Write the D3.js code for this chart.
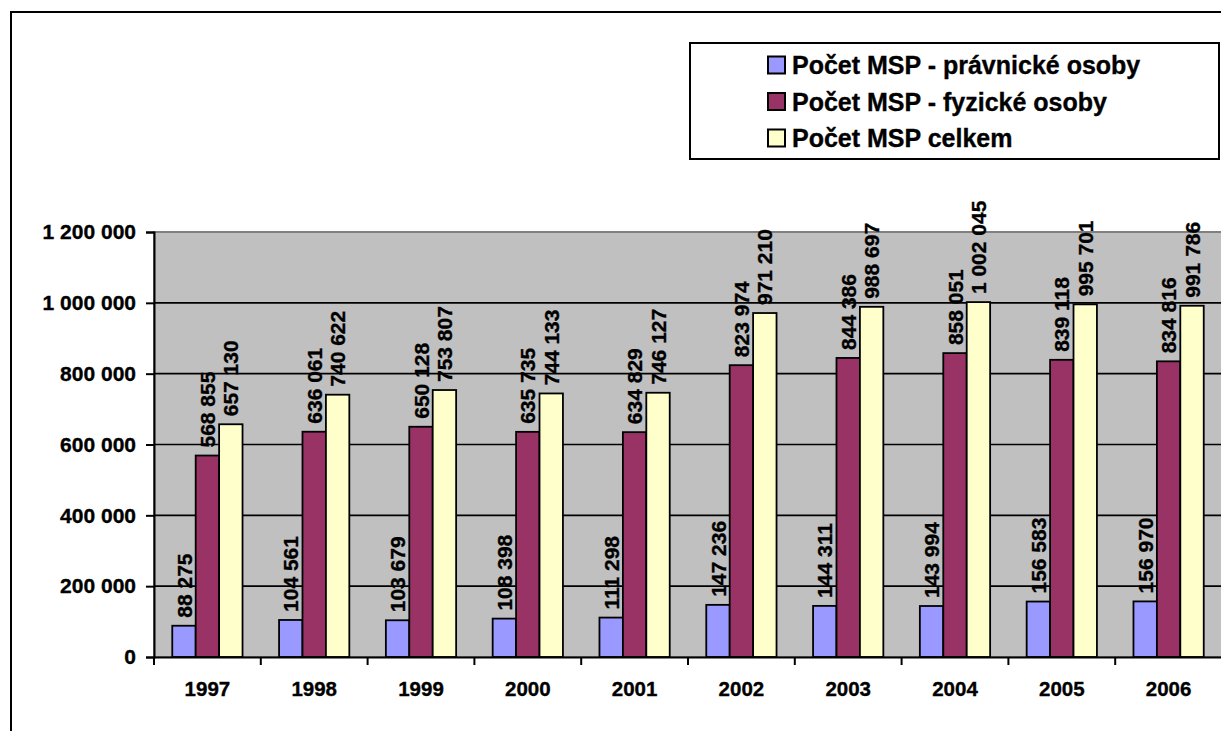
<!DOCTYPE html>
<html>
<head>
<meta charset="utf-8">
<script src="https://cdn.jsdelivr.net/npm/d3@7"></script>
<style>
  body { margin: 0; background: #fff; }
  svg { display: block; font-family: "Liberation Sans", Arial, sans-serif; font-weight: bold; }
  svg text { stroke: #000; stroke-width: 0.35px; }
</style>
</head>
<body>
<svg id="chart" width="1221" height="731"></svg>
<script>
const years = ['1997', '1998', '1999', '2000', '2001', '2002', '2003', '2004', '2005', '2006'];
const pravnicke = [88275, 104561, 103679, 108398, 111298, 147236, 144311, 143994, 156583, 156970];
const fyzicke = [568855, 636061, 650128, 635735, 634829, 823974, 844386, 858051, 839118, 834816];
const celkem = [657130, 740622, 753807, 744133, 746127, 971210, 988697, 1002045, 995701, 991786];
const seriesNames = ['Počet MSP - právnické osoby', 'Počet MSP - fyzické osoby', 'Počet MSP celkem'];
const seriesColors = ['#9999ff', '#993366', '#ffffcc'];
const yTicks = [0, 200000, 400000, 600000, 800000, 1000000, 1200000];

const series = [pravnicke, fyzicke, celkem];

const svg = d3.select('#chart');

const margin = { top: 232, right: -1, bottom: 74, left: 154 };
const W = 1221, H = 731;

const fmt = d3.formatLocale({ decimal: ',', thousands: ' ', grouping: [3], currency: ['', ' Kč'] }).format(',d');

// outer chart frame
svg.append('rect')
  .attr('x', 11).attr('y', 12)
  .attr('width', 1240).attr('height', 760)
  .attr('fill', 'none').attr('stroke', '#000').attr('stroke-width', 2);

const x = d3.scaleBand()
  .domain(years)
  .range([margin.left, W - margin.right])
  .padding(0);

const x1 = d3.scaleBand()
  .domain(d3.range(series.length))
  .range([0, x.bandwidth()])
  .paddingInner(0)
  .paddingOuter(0.78);

const y = d3.scaleLinear()
  .domain([0, 1200000])
  .range([H - margin.bottom, margin.top]);

// plot area
svg.append('rect')
  .attr('x', x.range()[0]).attr('y', y(1200000))
  .attr('width', x.range()[1] - x.range()[0])
  .attr('height', y(0) - y(1200000))
  .attr('fill', '#c0c0c0')
  .attr('stroke', '#808080').attr('stroke-width', 2);

// gridlines
svg.append('g')
  .selectAll('line')
  .data(yTicks.filter(d => d > 0 && d < 1200000))
  .enter().append('line')
  .attr('x1', x.range()[0]).attr('x2', x.range()[1])
  .attr('y1', d => y(d)).attr('y2', d => y(d))
  .attr('stroke', '#000').attr('stroke-width', 1.6);

// bars
const groups = svg.append('g')
  .selectAll('g')
  .data(years)
  .enter().append('g')
  .attr('transform', d => `translate(${x(d)},0)`);

groups.selectAll('rect')
  .data((d, i) => series.map((s, k) => ({ k, v: s[i] })))
  .enter().append('rect')
  .attr('x', d => x1(d.k))
  .attr('y', d => y(d.v))
  .attr('width', x1.bandwidth())
  .attr('height', d => y(0) - y(d.v))
  .attr('fill', d => seriesColors[d.k])
  .attr('stroke', '#000').attr('stroke-width', 1.8);

// value labels
groups.selectAll('text')
  .data((d, i) => series.map((s, k) => ({ k, v: s[i] })))
  .enter().append('text')
  .attr('transform', d => `translate(${x1(d.k) + x1.bandwidth() / 2},${y(d.v) - 8}) rotate(-90)`)
  .attr('dy', '0.36em')
  .attr('font-size', 21)
  .attr('fill', '#000')
  .text(d => fmt(d.v));

// y axis
const yAxis = svg.append('g')
  .attr('transform', `translate(${x.range()[0]},0)`)
  .call(d3.axisLeft(y).tickValues(yTicks).tickFormat(fmt).tickSize(8).tickPadding(10));
yAxis.select('.domain').attr('stroke', '#000').attr('stroke-width', 2);
yAxis.selectAll('.tick line').attr('stroke', '#000').attr('stroke-width', 2);
yAxis.selectAll('.tick text')
  .attr('font-family', '"Liberation Sans", Arial, sans-serif')
  .attr('font-weight', 'bold')
  .attr('font-size', 21)
  .attr('fill', '#000');

// x axis
const xAxis = svg.append('g')
  .attr('transform', `translate(0,${y(0)})`)
  .call(d3.axisBottom(x).tickSize(0).tickPadding(24));
xAxis.select('.domain').attr('stroke', '#000').attr('stroke-width', 2);
xAxis.selectAll('.tick text')
  .attr('font-family', '"Liberation Sans", Arial, sans-serif')
  .attr('font-weight', 'bold')
  .attr('font-size', 20.5)
  .attr('fill', '#000');
xAxis.append('g')
  .selectAll('line')
  .data(years)
  .enter().append('line')
  .attr('x1', d => x(d)).attr('x2', d => x(d))
  .attr('y1', 0).attr('y2', 8)
  .attr('stroke', '#000').attr('stroke-width', 2);

// legend
const legend = svg.append('g');
legend.append('rect')
  .attr('x', 690).attr('y', 43)
  .attr('width', 529).attr('height', 116)
  .attr('fill', '#fff').attr('stroke', '#000').attr('stroke-width', 2);

const items = legend.selectAll('g.item')
  .data(seriesNames)
  .enter().append('g')
  .attr('class', 'item')
  .attr('transform', (d, i) => `translate(768,${65 + i * 36.5})`);
items.append('rect')
  .attr('x', 0).attr('y', -8.5)
  .attr('width', 17).attr('height', 17)
  .attr('fill', (d, i) => seriesColors[i])
  .attr('stroke', '#000').attr('stroke-width', 2);
items.append('text')
  .attr('x', 24).attr('dy', '0.36em')
  .attr('font-size', 25)
  .attr('fill', '#000')
  .text(d => d);
</script>
</body>
</html>
